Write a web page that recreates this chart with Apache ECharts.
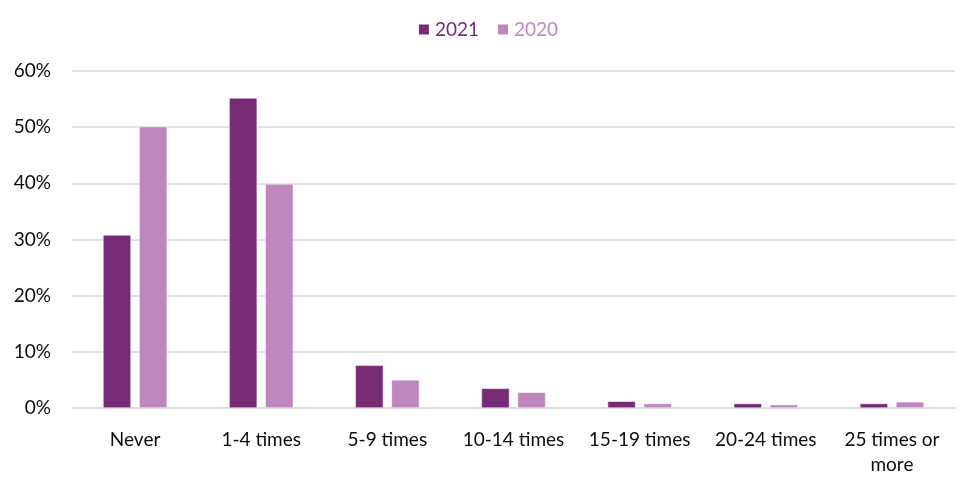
<!DOCTYPE html>
<html><head><meta charset="utf-8">
<script src="https://cdn.jsdelivr.net/npm/echarts@6/dist/echarts.min.js"></script>
<style>html,body{margin:0;padding:0;background:#fff}#c{width:975px;height:487px}</style>
</head><body><div id="c"></div>
<script>
const categories = ['Never','1-4 times','5-9 times','10-14 times','15-19 times','20-24 times','25 times or\nmore'];
const values2021 = [30.8, 55.2, 7.6, 3.5, 1.2, 0.8, 0.8];
const values2020 = [50.1, 39.9, 5.0, 2.8, 0.8, 0.6, 1.1];
const yTicks = [0, 10, 20, 30, 40, 50, 60];

const chart = echarts.init(document.getElementById('c'));
chart.setOption({
  animation: false,
  textStyle: { fontFamily: 'Lato' },
  legend: {
    top: 15, left: 'center', itemWidth: 12, itemHeight: 12, itemGap: 17,
    icon: 'rect',
    data: [
      { name: '2021', textStyle: { color: '#772B75' } },
      { name: '2020', textStyle: { color: '#BF87BF' } }
    ],
    textStyle: { fontSize: 19, fontFamily: 'Lato' }
  },
  grid: { left: 72, right: 20, top: 71, bottom: 79, containLabel: false },
  xAxis: {
    type: 'category', data: categories,
    axisLine: { lineStyle: { color: '#d9d9d9', width: 1.5 } },
    axisTick: { show: false },
    axisLabel: { color: '#0d0d0d', fontSize: 19, margin: 19, lineHeight: 25, interval: 0 }
  },
  yAxis: {
    type: 'value', min: 0, max: 60, interval: 10,
    axisLine: { show: false }, axisTick: { show: false },
    splitLine: { lineStyle: { color: '#d9d9d9', width: 1.5 } },
    axisLabel: { color: '#0d0d0d', fontSize: 19, margin: 21, formatter: v => yTicks.includes(v) ? v + '%' : '' }
  },
  series: [
    { name: '2021', type: 'bar', data: values2021, barWidth: 28, barGap: '29%',
      itemStyle: { color: '#772B75', borderColor: '#ffffff', borderWidth: 0.5 } },
    { name: '2020', type: 'bar', data: values2020, barWidth: 28,
      itemStyle: { color: '#BF87BF', borderColor: '#ffffff', borderWidth: 0.5 } }
  ]
});
</script></body></html>
